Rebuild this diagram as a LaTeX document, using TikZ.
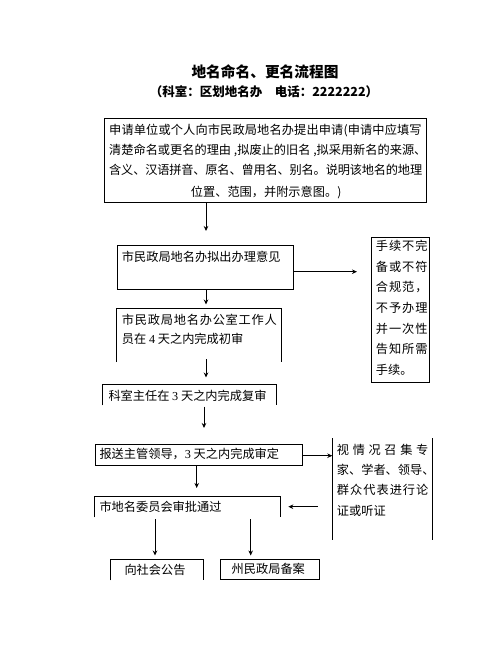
\documentclass[tikz,border=0pt]{standalone}
\usepackage{fontspec}
\setmainfont{Noto Sans CJK SC}
\newfontfamily\lat{Liberation Serif}
\usetikzlibrary{arrows.meta}
\ExplSyntaxOn
\NewDocumentCommand\jline{mm}{\hbox~to~#1{\tl_map_inline:nn{#2}{{##1}\hss}\unskip}}
\ExplSyntaxOff
\newcommand\fs{\fontsize{12.2}{14}\selectfont}
\begin{document}
\begin{tikzpicture}[x=1pt,y=-1pt,
  ln/.style={line width=0.8pt},
  box/.style={draw,line width=0.8pt,inner sep=0pt,anchor=north west},
  obox/.style={inner sep=0pt,anchor=north west},
  txt/.style={inner sep=0pt,anchor=base west,font=\fs},
  arr/.style={-{Stealth[length=5pt,width=4.5pt]},line width=0.8pt}]
\useasboundingbox[fill=white] (0,0) rectangle (502,649);

% title
\node[font=\bfseries\fontsize{14.7}{16}\selectfont,inner sep=0pt,anchor=base] (title) at (265,77.6) {地名命名、更名流程图};
\node[font=\bfseries\fontsize{12.5}{14}\selectfont,inner sep=0pt,anchor=base] (sub) at (264,96.8) {（科室：区划地名办　电话：2222222）};

% boxes
\node[box,minimum width=321.7pt,minimum height=84.3pt] (b1) at (104.3,117.5) {};
\node[box,minimum width=176.6pt,minimum height=44.3pt] (b2) at (116.7,245) {};
\node[obox,minimum width=164pt,minimum height=53.4pt] (b3) at (116.7,308.3) {};
\node[obox,minimum width=173pt,minimum height=20.7pt] (b4) at (102.7,384.3) {};
\node[box,minimum width=58pt,minimum height=145pt] (b5) at (371,237) {};
\node[box,minimum width=207.2pt,minimum height=20.8pt] (b6) at (94.5,444.2) {};
\node[obox,minimum width=100pt,minimum height=101pt] (b7) at (332.3,438.3) {};
\node[obox,minimum width=185.7pt,minimum height=21pt] (b8) at (94.3,496) {};
\node[obox,minimum width=92.7pt,minimum height=20.7pt] (b9) at (110,559.3) {};
\node[box,minimum width=99.3pt,minimum height=20pt] (b10) at (220,559.3) {};

% open outlines
\draw[ln] (b3.south west) -- (b3.north west) -- (b3.north east) -- (b3.south east);
\draw[ln] (b4.south west) -- (b4.north west) -- (b4.north east) -- (b4.south east);
\draw[ln] (b8.south west) -- (b8.north west) -- (b8.north east) -- (b8.south east);
\draw[ln] (b9.south west) -- (b9.north west) -- (b9.north east) -- (b9.south east);
\draw[ln] (b7.north west) -- (b7.south west);
\draw[ln] (b7.north east) -- (b7.south east);

% texts
\node[txt] (t1a) at (109,134.1) {\jline{312.5pt}{申请单位或个人向市民政局地名办提出申请(申请中应填写}};
\node[txt] (t1b) at (109,154.6) {清楚命名或更名的理由 ,拟废止的旧名 ,拟采用新名的来源、};
\node[txt] (t1c) at (109,174.6) {\jline{313pt}{含义、汉语拼音、原名、曾用名、别名。说明该地名的地理}};
\node[txt] (t1d) at (190.7,196.6) {位置、范围，并附示意图。)};

\node[txt] (t2) at (121.7,261.3) {市民政局地名办拟出办理意见};

\node[txt] (t3a) at (121.7,324.6) {\jline{155pt}{市民政局地名办公室工作人}};
\node[txt] (t3b) at (121.7,343.9) {员在 {\lat 4} 天之内完成初审};

\node[txt] (t4) at (108.3,400.3) {科室主任在 {\lat 3} 天之内完成复审};

\node[txt] (t5a) at (375.7,250.6) {\jline{51.6pt}{手续不完}};
\node[txt] (t5b) at (375.7,271.3) {\jline{51.6pt}{备或不符}};
\node[txt] (t5c) at (375.7,291.9) {\jline{51.6pt}{合规范，}};
\node[txt] (t5d) at (375.7,312.6) {\jline{51.6pt}{不予办理}};
\node[txt] (t5e) at (375.7,333.3) {\jline{51.6pt}{并一次性}};
\node[txt] (t5f) at (375.7,353.9) {\jline{51.6pt}{告知所需}};
\node[txt] (t5g) at (375.7,374.6) {手续。};

\node[txt] (t6) at (99.3,458.9) {报送主管领导，{\lat 3} 天之内完成审定};

\node[txt] (t7a) at (336.7,454.6) {\jline{91.5pt}{视情况召集专}};
\node[txt] (t7b) at (336.7,474.6) {家、学者、领导、};
\node[txt] (t7c) at (336.7,494.6) {\jline{91.5pt}{群众代表进行论}};
\node[txt] (t7d) at (336.7,515.3) {证或听证};

\node[txt] (t8) at (99.3,511.9) {市地名委员会审批通过};
\node[txt,anchor=base] (t9) at (155,574.6) {向社会公告};
\node[txt,anchor=base] (t10) at (268.3,573.9) {州民政局备案};

% connectors
\coordinate (e1) at (206,231);
\draw[arr] (e1 |- b1.south) -- (e1);
\coordinate (e2) at (206,304.5);
\draw[arr] (e2 |- b2.south) -- (e2);
\coordinate (s3) at (206,359);
\coordinate (e3) at (206,377.5);
\draw[arr] (s3) -- (e3);
\coordinate (s4) at (204,406.5);
\coordinate (e4) at (204,428);
\draw[arr] (s4) -- (e4);
\coordinate (e5) at (357,271.7);
\draw[arr] (b2.east |- e5) -- (e5);
\coordinate (e6) at (196.7,488);
\draw[arr] (e6 |- b6.south) -- (e6);
\coordinate (y7) at (0,455.7);
\draw[arr] (b6.east |- y7) -- (b7.west |- y7);
\coordinate (s8) at (317.5,506.7);
\coordinate (e8) at (288.3,506.7);
\draw[arr] (s8) -- (e8);
\coordinate (s9) at (155,519);
\coordinate (e9) at (155,555.5);
\draw[arr] (s9) -- (e9);
\coordinate (s10) at (250.7,519);
\coordinate (e10) at (250.7,555.5);
\draw[arr] (s10) -- (e10);
\end{tikzpicture}
\end{document}
